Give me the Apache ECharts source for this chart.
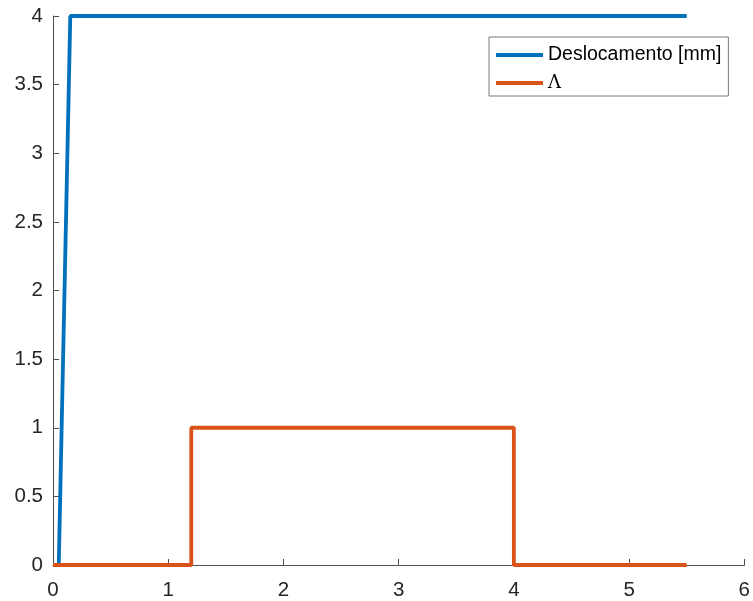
<!DOCTYPE html>
<html>
<head>
<meta charset="utf-8">
<script src="https://cdn.jsdelivr.net/npm/echarts@6/dist/echarts.min.js"></script>
<style>
html,body{margin:0;padding:0;background:#fff;}
#c{width:753px;height:601px;}
</style>
</head>
<body>
<div id="c"></div>
<script>
// Data
const seriesNames = ['Deslocamento [mm]', 'Λ'];
const deslocX = [0.05, 0.15, 5.5];
const deslocY = [0, 4, 4];
const lambdaX = [0, 1.2, 1.2, 4, 4, 5.5];
const lambdaY = [0, 0, 1, 1, 0, 0];
const xTicks = [0, 1, 2, 3, 4, 5, 6];
const yTicks = [0, 0.5, 1, 1.5, 2, 2.5, 3, 3.5, 4];

const zip = (xs, ys) => xs.map((x, i) => [x, ys[i]]);

const chart = echarts.init(document.getElementById('c'));
const axisColor = '#4d4d4d';
const labelColor = '#262626';
const font = 'Liberation Sans, Arial, Helvetica, sans-serif';

chart.setOption({
  animation: false,
  backgroundColor: '#fff',
  grid: { left: 53, right: 6, top: 16, bottom: 35 },
  legend: {
    orient: 'vertical',
    left: 489,
    top: 37,
    padding: [8, 7, 3, 7],
    itemGap: 8,
    itemWidth: 47,
    itemHeight: 4,
    icon: 'rect',
    borderColor: '#7a7a7a',
    borderWidth: 1,
    backgroundColor: '#fff',
    textStyle: { fontFamily: font, fontSize: 19.5, color: '#000', lineHeight: 20 },
    data: [
      { name: seriesNames[0] },
      { name: seriesNames[1], textStyle: { fontFamily: 'DejaVu Serif, Liberation Serif, serif', fontSize: 18, lineHeight: 20 } }
    ]
  },
  xAxis: {
    type: 'value',
    min: xTicks[0],
    max: xTicks[xTicks.length - 1],
    interval: 1,
    axisLine: { show: true, onZero: false, lineStyle: { color: axisColor, width: 1 } },
    axisTick: { show: true, inside: true, length: 6, lineStyle: { color: axisColor } },
    axisLabel: { color: labelColor, fontFamily: font, fontSize: 20.5, margin: 15 },
    splitLine: { show: false }
  },
  yAxis: {
    type: 'value',
    min: yTicks[0],
    max: yTicks[yTicks.length - 1],
    interval: 0.5,
    axisLine: { show: true, onZero: false, lineStyle: { color: axisColor, width: 1 } },
    axisTick: { show: true, inside: true, length: 6, lineStyle: { color: axisColor } },
    axisLabel: { color: labelColor, fontFamily: font, fontSize: 20.5, margin: 10 },
    splitLine: { show: false }
  },
  series: [
    {
      name: seriesNames[0],
      type: 'line',
      data: zip(deslocX, deslocY),
      showSymbol: false,
      symbol: 'none',
      color: '#0072BD',
      lineStyle: { color: '#0072BD', width: 3.8 },
      z: 2
    },
    {
      name: seriesNames[1],
      type: 'line',
      data: zip(lambdaX, lambdaY),
      showSymbol: false,
      symbol: 'none',
      color: '#D95319',
      lineStyle: { color: '#D95319', width: 3.8 },
      z: 3
    }
  ]
});
</script>
</body>
</html>
